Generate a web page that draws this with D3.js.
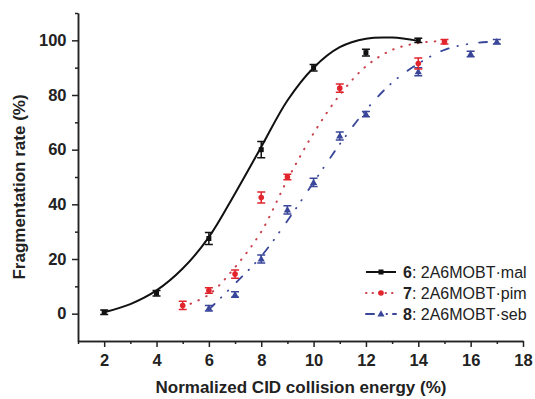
<!DOCTYPE html>
<html>
  <head>
    <title>Fragmentation rate</title>
    <script src="https://cdnjs.cloudflare.com/ajax/libs/d3/7.8.5/d3.min.js"></script>
    <style>
      body { margin: 0; background: #fff; }
      text { font-family: Arial, "Liberation Sans", sans-serif; }
    </style>
  </head>
  <body>
    <script>
      // measured points (energy %, rate %, error)
      var energy6 = [2, 4, 6, 8, 10, 12, 14];
      var rate6   = [0.5, 7.5, 27.5, 60, 90, 95.5, 100];
      var err6    = [0.8, 1, 2.2, 3, 1.2, 1.2, 0.8];

      var energy7 = [5, 6, 7, 8, 9, 11, 14, 15];
      var rate7   = [3, 8.5, 14.5, 42.5, 50, 82.5, 91.5, 99.5];
      var err7    = [1.5, 1, 1.5, 2, 1, 1.5, 2, 0.8];

      var energy8 = [6, 7, 8, 9, 10, 11, 12, 14, 16, 17];
      var rate8   = [2, 7, 20, 38, 48, 65, 73, 88.5, 95, 99.5];
      var err8    = [1, 1, 1.5, 1.5, 1.5, 1.5, 1, 1.5, 1, 0.8];

      // fitted curves
      var fitX6 = [2, 3, 4, 5, 6, 7, 8, 9, 10, 11, 12, 13, 14];
      var fitY6 = [0.5, 3.5, 8.5, 16.5, 28, 44, 61, 78, 90, 97.5, 100.6, 101, 99.8];
      var fitX7 = [5, 6, 7, 8, 9, 10, 11, 12, 13, 14, 15];
      var fitY7 = [2.5, 7, 17, 30, 49, 66, 80, 90.5, 96.5, 99, 99.8];
      var fitX8 = [6, 7, 8, 9, 10, 11, 12, 13, 14, 15, 16, 17];
      var fitY8 = [1.5, 11, 21, 34, 48, 62, 74.5, 84.5, 91.5, 96.5, 98.8, 99.6];

      var xTicks = [2, 4, 6, 8, 10, 12, 14, 16, 18];
      var xMinor = [1, 3, 5, 7, 9, 11, 13, 15, 17];
      var yTicks = [0, 20, 40, 60, 80, 100];
      var yMinor = [10, 30, 50, 70, 90, 110];

      var seriesNames = ["6", "7", "8"];
      var seriesLabels = [": 2A6MOBT\u00b7mal", ": 2A6MOBT\u00b7pim", ": 2A6MOBT\u00b7seb"];

      var black = "#111", red = "#e2242d", blue = "#3a4699";

      var svg = d3.select("body").append("svg")
                  .attr("width", 535)
                  .attr("height", 399);

      var x = d3.scaleLinear().domain([1, 18]).range([78, 523]);
      var y = d3.scaleLinear().domain([-10, 110]).range([341, 13]);

      // axes
      var xAxis = svg.append("g").attr("transform", "translate(0,341)")
        .call(d3.axisBottom(x).tickValues(xTicks).tickSize(6).tickSizeOuter(0));
      svg.append("g").attr("transform", "translate(0,341)")
        .call(d3.axisBottom(x).tickValues(xMinor).tickSize(3).tickFormat("").tickSizeOuter(0));
      var yAxis = svg.append("g").attr("transform", "translate(78,0)")
        .call(d3.axisLeft(y).tickValues(yTicks).tickSize(6).tickSizeOuter(0));
      svg.append("g").attr("transform", "translate(78,0)")
        .call(d3.axisLeft(y).tickValues(yMinor).tickSize(3).tickFormat("").tickSizeOuter(0));

      svg.selectAll(".domain, .tick line").attr("stroke", "#222").attr("stroke-width", 1.5);
      xAxis.selectAll("text").attr("font-size", 16.5).attr("font-weight", "bold")
           .attr("fill", "#222").attr("dy", "0.95em");
      yAxis.selectAll("text").attr("font-size", 16.5).attr("font-weight", "bold")
           .attr("fill", "#222").attr("dx", "-0.15em");

      svg.append("text").attr("x", 301).attr("y", 393).attr("text-anchor", "middle")
         .attr("font-size", 17).attr("font-weight", "bold").attr("fill", "#222")
         .text("Normalized CID collision energy (%)");
      svg.append("text").attr("transform", "translate(25,187) rotate(-90)")
         .attr("text-anchor", "middle")
         .attr("font-size", 17).attr("font-weight", "bold").attr("fill", "#222")
         .text("Fragmentation rate (%)");

      // fitted lines
      var line = d3.line().x(function(d){ return x(d[0]); })
                          .y(function(d){ return y(d[1]); })
                          .curve(d3.curveCatmullRom);

      function fitPath(xs, ys, color, width, dash) {
        svg.append("path").datum(d3.zip(xs, ys))
           .attr("d", line).attr("fill", "none")
           .attr("stroke", color).attr("stroke-width", width)
           .attr("stroke-linecap", dash ? "round" : "butt")
           .attr("stroke-dasharray", dash);
      }
      fitPath(fitX8, fitY8, blue, 1.8, "8,9,0.5,9,0.5,12");
      fitPath(fitX7, fitY7, "#c8404c", 2, "0.5,8");
      fitPath(fitX6, fitY6, black, 2, null);

      // markers + error bars
      function marker(g, shape, color) {
        if (shape === "square") {
          g.append("rect").attr("x", -2.5).attr("y", -2.5).attr("width", 5).attr("height", 5)
           .attr("fill", color);
        } else if (shape === "circle") {
          g.append("circle").attr("r", 2.8).attr("fill", color);
        } else {
          g.append("path").attr("d", "M0,-3.8L3.6,2.6L-3.6,2.6Z").attr("fill", color);
        }
      }

      function points(xs, ys, es, color, shape) {
        var data = d3.zip(xs, ys, es);
        var grp = svg.append("g").selectAll("g").data(data).enter().append("g");
        grp.append("path")
           .attr("d", function(d){
             var px = x(d[0]), top = y(d[1] + d[2]), bot = y(d[1] - d[2]);
             return "M" + (px - 4) + "," + top + "H" + (px + 4) +
                    "M" + px + "," + top + "V" + bot +
                    "M" + (px - 4) + "," + bot + "H" + (px + 4);
           })
           .attr("stroke", color).attr("stroke-width", 1.5).attr("fill", "none");
        grp.each(function(d){
          var g = d3.select(this).append("g")
                    .attr("transform", "translate(" + x(d[0]) + "," + y(d[1]) + ")");
          marker(g, shape, color);
        });
      }
      points(energy8, rate8, err8, blue, "triangle");
      points(energy7, rate7, err7, red, "circle");
      points(energy6, rate6, err6, black, "square");

      // legend
      var legY = [272, 293, 314];
      var legColors = [black, red, blue];
      var legShapes = ["square", "circle", "triangle"];
      var legDash = [null, "0.5,6", "8,6,0.5,6,0.5,6"];
      var legColorsLine = [black, "#c8404c", blue];
      var leg = svg.append("g").selectAll("g").data(seriesNames).enter().append("g")
                   .attr("transform", function(d, i){ return "translate(0," + legY[i] + ")"; });
      leg.append("line").attr("x1", 366).attr("x2", 396).attr("y1", 0).attr("y2", 0)
         .attr("stroke", function(d, i){ return legColorsLine[i]; })
         .attr("stroke-width", 2)
         .attr("stroke-linecap", function(d, i){ return i ? "round" : "butt"; })
         .attr("stroke-dasharray", function(d, i){ return legDash[i]; });
      leg.each(function(d, i){
        var g = d3.select(this).append("g").attr("transform", "translate(381,0)");
        marker(g, legShapes[i], legColors[i]);
      });
      var lt = leg.append("text").attr("x", 403).attr("y", 5.5)
                  .attr("font-size", 16).attr("fill", "#222");
      lt.append("tspan").attr("font-weight", "bold").text(function(d){ return d; });
      lt.append("tspan").text(function(d, i){ return seriesLabels[i]; });
    </script>
  </body>
</html>
